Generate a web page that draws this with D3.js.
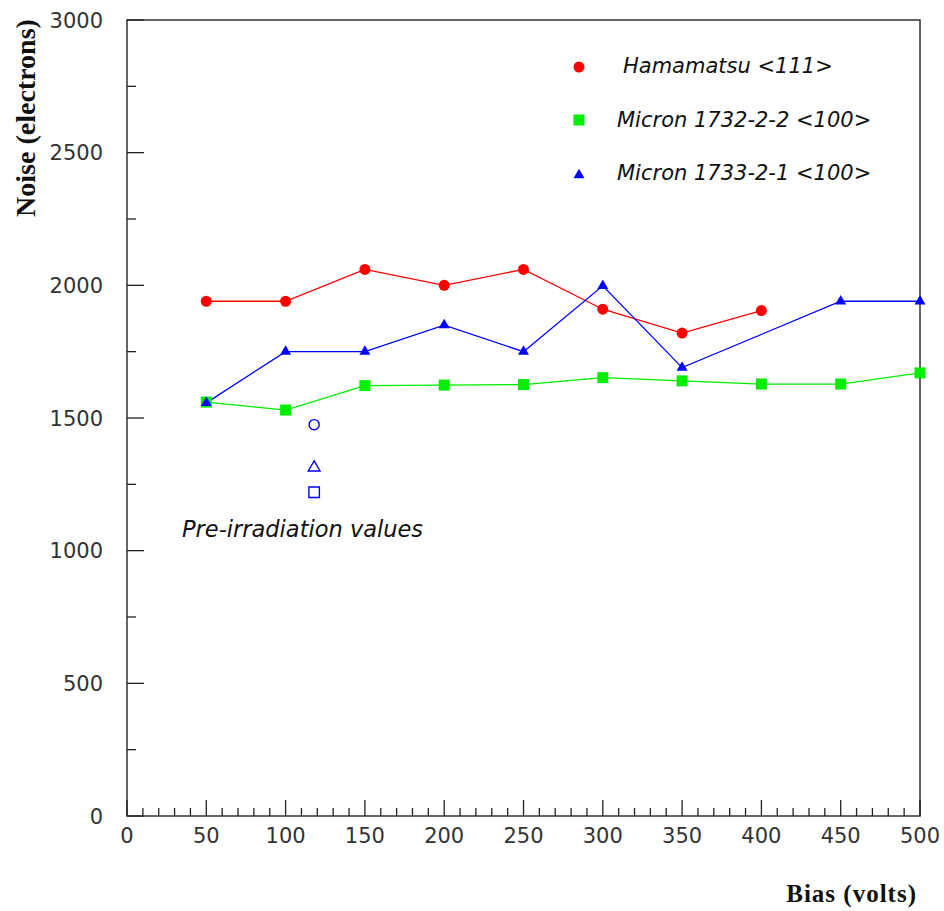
<!DOCTYPE html>
<html><head><meta charset="utf-8">
<script src="https://cdn.jsdelivr.net/npm/d3@7"></script>
<style>body{margin:0;background:#fff}</style>
</head><body><svg id="c" width="944" height="911"></svg>
<script>
// ---- data ----
const hamamatsuX = [50,100,150,200,250,300,350,400];
const hamamatsuNoise = [1940,1940,2060,2000,2060,1910,1820,1905];
const micron1732X = [50,100,150,200,250,300,350,400,450,500];
const micron1732Noise = [1560,1530,1622,1624,1626,1652,1640,1628,1628,1670];
const micron1733X = [50,100,150,200,250,300,350,450,500];
const micron1733Noise = [1557,1750,1750,1850,1750,1998,1690,1940,1940];
const preIrradX = [118,118,118];
const preIrradNoise = [1475,1313,1220];
const preIrradShape = ["circle","triangle","square"];
const legendLabels = ["Hamamatsu <111>","Micron 1732-2-2 <100>","Micron 1733-2-1 <100>"];
const xMajorTicks = [0,50,100,150,200,250,300,350,400,450,500];
const xMinorTicks = [10,20,30,40,60,70,80,90,110,120,130,140,160,170,180,190,210,220,230,240,260,270,280,290,310,320,330,340,360,370,380,390,410,420,430,440,460,470,480,490];
const yMajorTicks = [0,500,1000,1500,2000,2500,3000];
const yMinorTicks = [250,750,1250,1750,2250,2750];

const series = [
  {name: legendLabels[0], xs: hamamatsuX, ys: hamamatsuNoise, color: "#ff0000", shape: "circle"},
  {name: legendLabels[1], xs: micron1732X, ys: micron1732Noise, color: "#00ee00", shape: "square"},
  {name: legendLabels[2], xs: micron1733X, ys: micron1733Noise, color: "#0000ff", shape: "triangle"}
];

// ---- layout ----
const L = 127, R = 920, T = 20, B = 816;
const svg = d3.select("#c");
const x = d3.scaleLinear().domain([0,500]).range([L,R]);
const y = d3.scaleLinear().domain([0,3000]).range([B,T]);

const symType = {circle: d3.symbolCircle, square: d3.symbolSquare, triangle: d3.symbolTriangle};
const symSize = {circle: 95, square: 121, triangle: 52};
const sym = s => d3.symbol().type(symType[s]).size(symSize[s])();

// frame
svg.append("rect").attr("x",L).attr("y",T).attr("width",R-L).attr("height",B-T)
  .attr("fill","none").attr("stroke","#333").attr("stroke-width",1.5);

const tickFont = "DejaVu Sans, sans-serif";
const ticks = svg.append("g").attr("stroke","#222").attr("stroke-width",1.3);
// x ticks (pointing up, inside)
ticks.selectAll("line.xmin").data(xMinorTicks).join("line").attr("class","xmin")
  .attr("x1",d=>x(d)).attr("x2",d=>x(d)).attr("y1",B).attr("y2",B-8);
ticks.selectAll("line.xmaj").data(xMajorTicks).join("line").attr("class","xmaj")
  .attr("x1",d=>x(d)).attr("x2",d=>x(d)).attr("y1",B).attr("y2",B-16);
// y ticks (pointing right, inside)
ticks.selectAll("line.ymin").data(yMinorTicks).join("line").attr("class","ymin")
  .attr("x1",L).attr("x2",L+9).attr("y1",d=>y(d)).attr("y2",d=>y(d));
ticks.selectAll("line.ymaj").data(yMajorTicks).join("line").attr("class","ymaj")
  .attr("x1",L).attr("x2",L+17).attr("y1",d=>y(d)).attr("y2",d=>y(d));

// tick labels
svg.append("g").selectAll("text").data(xMajorTicks).join("text")
  .attr("x",d=>x(d)).attr("y",B+27).attr("text-anchor","middle")
  .attr("font-family",tickFont).attr("font-size",21).attr("fill","#333").text(d=>d);
svg.append("g").selectAll("text").data(yMajorTicks).join("text")
  .attr("x",L-24).attr("y",d=>y(d)).attr("dy","0.36em").attr("text-anchor","end")
  .attr("font-family",tickFont).attr("font-size",21).attr("fill","#333").text(d=>d);

// axis titles
svg.append("text").attr("x",917).attr("y",902).attr("text-anchor","end")
  .attr("font-family","Liberation Serif, serif").attr("font-weight","bold")
  .attr("font-size",25).attr("letter-spacing",1).attr("fill","#111").text("Bias (volts)");
svg.append("text").attr("transform","translate(35,118) rotate(-90)").attr("text-anchor","middle")
  .attr("font-family","Liberation Serif, serif").attr("font-weight","bold")
  .attr("font-size",28).attr("fill","#111").text("Noise (electrons)");

// lines & markers
const line = d3.line().x(d => x(d[0])).y(d => y(d[1]));
series.forEach(s => {
  const pts = s.xs.map((v,i) => [v, s.ys[i]]);
  svg.append("path").attr("d", line(pts)).attr("fill","none").attr("stroke",s.color).attr("stroke-width",1.3);
});
series.forEach(s => {
  const pts = s.xs.map((v,i) => [v, s.ys[i]]);
  svg.append("g").selectAll("path").data(pts).join("path")
    .attr("transform", d => `translate(${x(d[0])},${y(d[1])})`)
    .attr("d", sym(s.shape)).attr("fill", s.color);
});

// pre-irradiation open markers
const openSize = {circle: 80, square: 110, triangle: 60};
svg.append("g").selectAll("path").data(preIrradX.map((v,i)=>[v,preIrradNoise[i],preIrradShape[i]])).join("path")
  .attr("transform", d => `translate(${x(d[0])},${y(d[1])})`)
  .attr("d", d => d3.symbol().type(symType[d[2]]).size(openSize[d[2]])())
  .attr("fill","none").attr("stroke","#0000ff").attr("stroke-width",1.4);
svg.append("text").attr("x",182).attr("y",537).attr("font-family",tickFont).attr("font-style","italic")
  .attr("font-size",22.5).attr("fill","#111").text("Pre-irradiation values");

// legend
const legY = [67,120,175];
const legTextX = [623,617,617];
const legTextY = [73,127,180];
series.forEach((s,i) => {
  svg.append("path").attr("transform",`translate(579,${legY[i]})`).attr("d", sym(s.shape)).attr("fill", s.color);
  svg.append("text").attr("x",legTextX[i]).attr("y",legTextY[i]).attr("font-family",tickFont)
    .attr("font-style","italic").attr("font-size",21).attr("fill","#111").text(s.name);
});
</script></body></html>
